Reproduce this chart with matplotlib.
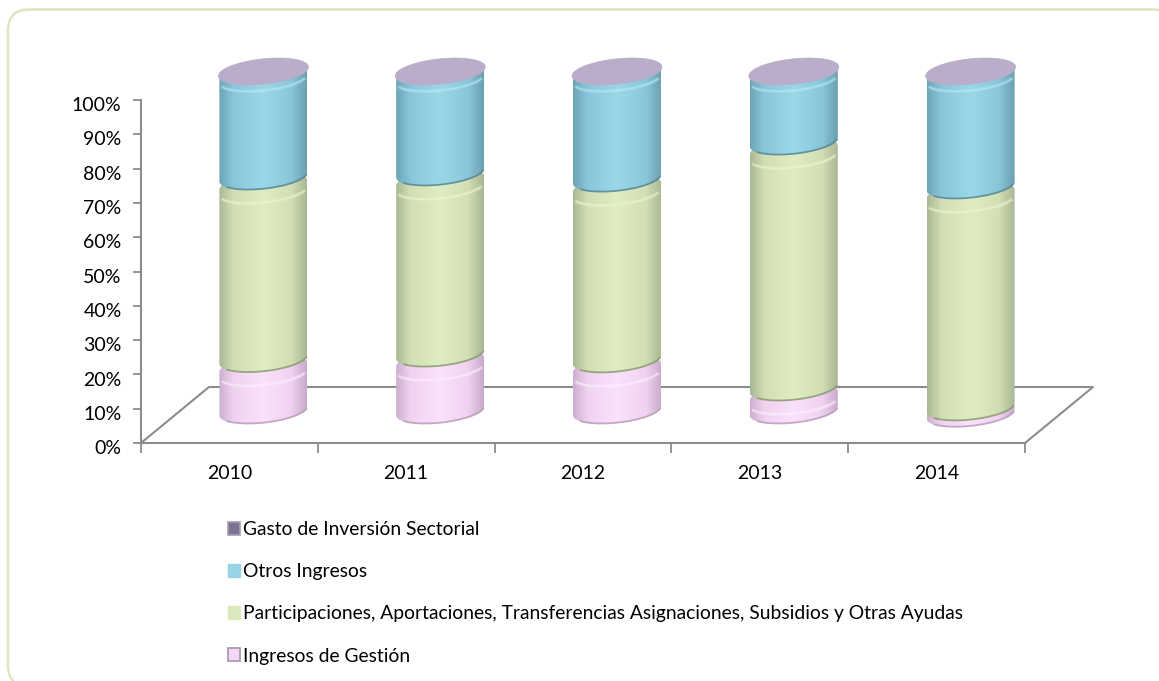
"""Composicion de ingresos 2010-2014, columnas cilindricas apiladas al 100%."""

import matplotlib
matplotlib.use("Agg")

import matplotlib.pyplot as plt
import numpy as np
from matplotlib.colors import to_rgb
from matplotlib.patches import FancyBboxPatch, Patch, Polygon
from matplotlib.transforms import ScaledTranslation

YEARS = ["2010", "2011", "2012", "2013", "2014"]
Y_TICKS = [0, 10, 20, 30, 40, 50, 60, 70, 80, 90, 100]

INGRESOS = [15.0, 16.6, 14.9, 6.7, 0.9]
PARTICIPACIONES = [53.2, 52.8, 52.7, 71.7, 64.7]
OTROS = [31.5, 30.3, 32.1, 21.3, 34.1]
GASTO = [0.3, 0.3, 0.3, 0.3, 0.3]

LABELS = [
    "Gasto de Inversión Sectorial",
    "Otros Ingresos",
    "Participaciones, Aportaciones, Transferencias Asignaciones, Subsidios y Otras Ayudas",
    "Ingresos de Gestión",
]

# (borde, intermedio, centro, sombra lado derecho, brillo del aro, linea inferior)
PINK = ("#cdaecf", "#f0d2f0", "#fae2fb", "#c9a9cb", "#fdf0fd", "#b698b8")
GREEN = ("#a9b894", "#d2deb3", "#e0ecc1", "#a8b793", "#eef4d6", "#87966f")
BLUE = ("#6ba5b6", "#8ac6da", "#9ad8e9", "#6b9fb0", "#b8e8f2", "#55838f")

W, H = 1159, 681
PX_X = 176.8  # pixeles por categoria
PX_Y = 3.43  # pixeles por punto porcentual
RX = 44 / PX_X
RY = 12 / PX_Y
TILT = 4.5 / PX_Y
DEPTH_X = 68 / PX_X
DEPTH_Y = 56 / PX_Y
INSET = 4 / PX_Y

plt.rcParams["font.family"] = ["Lato", "DejaVu Sans"]

fig = plt.figure(figsize=(W / 100, H / 100), dpi=100, facecolor="white")

bg = fig.add_axes([0, 0, 1, 1])
bg.set_xlim(0, W)
bg.set_ylim(H, 0)
bg.axis("off")
bg.add_patch(FancyBboxPatch((8, 9.5), 1166, 677, boxstyle="round,pad=0,rounding_size=21",
                            mutation_scale=1, fc="white", ec="#dde6bf", lw=1.8))

ax = fig.add_axes([141 / W, 1 - 443 / H, 884 / W, 343 / H])
ax.patch.set_alpha(0)


def ring(cx, cy, start, stop, n=80):
    t = np.linspace(start, stop, n)
    return np.column_stack([cx + RX * np.cos(t), cy + TILT * np.cos(t) + RY * np.sin(t)])


def cylinder(cx, low, high, cols, z):
    # low y high son los centros de las elipses inferior y superior
    front_low = ring(cx, low, np.pi, 2 * np.pi)
    back_high = ring(cx, high, 0, np.pi)
    clip = Polygon(np.vstack([front_low, back_high]), closed=True, fc="none", ec="none")
    ax.add_patch(clip)

    stops = np.array([0, 0.16, 0.5, 0.82, 1.0])
    rgb = np.array([to_rgb(c) for c in (cols[0], cols[1], cols[2], cols[1], cols[3])])
    xs = np.linspace(0, 1, 200)
    grad = np.stack([np.interp(xs, stops, rgb[:, i]) for i in range(3)], axis=-1)[None, :, :]
    im = ax.imshow(grad, extent=(cx - RX, cx + RX, low - RY - TILT, high + RY + TILT),
                   aspect="auto", zorder=z, interpolation="bilinear", origin="lower")
    im.set_clip_path(clip)
    im.set_clip_box(fig.bbox)

    # sombra del borde inferior y aro claro del borde superior
    ax.plot(front_low[15:-5, 0], front_low[15:-5, 1] + 0.1, color=cols[5], lw=1.3, alpha=0.8,
            zorder=z + 0.1, clip_on=False, solid_capstyle="round")
    if high - low > 2.5 * INSET:
        rim = ring(cx, high - 1.6, np.pi, 2 * np.pi)[10:-10]
        ax.plot(rim[:, 0], rim[:, 1], color=cols[4], lw=2.6, alpha=0.3, zorder=z + 0.1, clip_on=False)
        ax.plot(rim[:, 0], rim[:, 1], color=cols[4], lw=1.1, alpha=0.6, zorder=z + 0.1, clip_on=False)


# Suelo en perspectiva, detras de las columnas
floor_x = [0, DEPTH_X, 5 + DEPTH_X, 5]
floor_y = [0, DEPTH_Y, DEPTH_Y, 0]
ax.plot(floor_x, floor_y, color="#8c8c8c", lw=1.5, clip_on=False, zorder=1)

centers = np.arange(len(YEARS)) + 0.5 + DEPTH_X / 2
base_y = DEPTH_Y / 2
series = [(INGRESOS, PINK), (PARTICIPACIONES, GREEN), (OTROS, BLUE)]

for i, cx in enumerate(centers):
    bottom = 0.0
    for s, (vals, cols) in enumerate(series):
        v = vals[i]
        inset = min(INSET, 0.25 * v)
        top_inset = 0.0 if s == 2 else inset
        cylinder(cx, base_y + bottom + inset, base_y + bottom + v - top_inset, cols, 3 + s)
        bottom += v
    # tapa del gasto de inversion, apenas visible sobre la columna
    t = np.linspace(0, 2 * np.pi, 120)
    gx = cx + (RX + 1 / PX_X) * np.cos(t)
    gy = base_y + bottom + GASTO[i] + 0.15 + TILT * np.cos(t) + (RY + 0.2) * np.sin(t)
    ax.add_patch(Polygon(np.column_stack([gx, gy]), closed=True, fc="#b9adc9", ec="#b9adc9",
                         lw=0.5, zorder=8, clip_on=False))

ax.set_xlim(0, 5)
ax.set_ylim(0, 100)
for side in ("top", "right"):
    ax.spines[side].set_visible(False)
for side in ("left", "bottom"):
    ax.spines[side].set_color("#8c8c8c")
    ax.spines[side].set_linewidth(1.5)

ax.set_yticks(Y_TICKS)
ax.set_yticklabels([f"{v}%" for v in Y_TICKS])
ax.set_xticks(np.arange(len(YEARS) + 1))
ax.set_xticklabels([""] * (len(YEARS) + 1))
ax.set_xticks(np.arange(len(YEARS)) + 0.5, minor=True)
ax.set_xticklabels(YEARS, minor=True)
ax.tick_params(axis="y", length=6, width=1.3, color="#8c8c8c", labelsize=14, pad=8)
ax.tick_params(axis="x", which="major", length=7, width=1.3, color="#8c8c8c")
ax.tick_params(axis="x", which="minor", length=0, labelsize=14, pad=16)

shift = ScaledTranslation(0, -3 / 72, fig.dpi_scale_trans)
for lab in ax.get_yticklabels():
    lab.set_transform(lab.get_transform() + shift)

handles = [
    Patch(fc="#7d7391", ec="#a79cb8", lw=1.2),
    Patch(fc="#96d3e5", ec="#96d3e5"),
    Patch(fc="#dce9bd", ec="#dce9bd"),
    Patch(fc="#f3d8f3", ec="#a794ab", lw=1.2),
]
fig.legend(handles, LABELS, loc="upper left", bbox_to_anchor=(220 / W, 1 - 513.5 / H), frameon=False,
           fontsize=13.9, handlelength=0.62, handleheight=0.62, handletextpad=0.17,
           labelspacing=1.3, borderpad=0.4, borderaxespad=0)

fig.savefig("out.png", dpi=100)
